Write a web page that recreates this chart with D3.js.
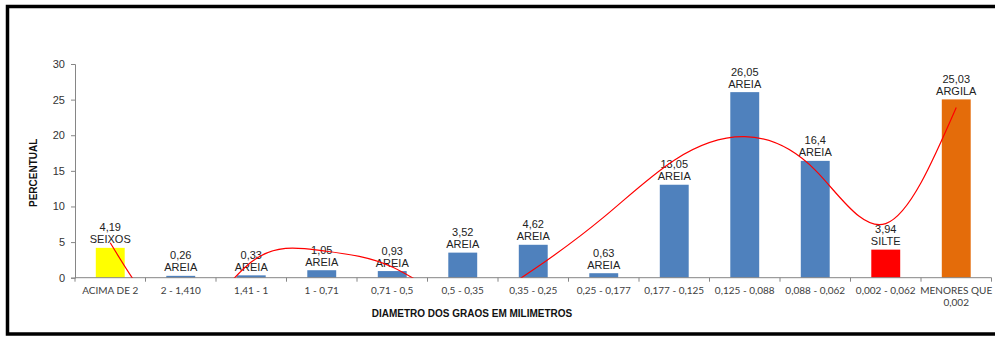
<!DOCTYPE html>
<html>
<head>
<meta charset="utf-8">
<script src="https://cdn.jsdelivr.net/npm/d3@7"></script>
<style>
  body { margin: 0; background: #fff; }
  svg { display: block; }
</style>
</head>
<body>
<div id="chart"></div>
<script>
// granulometria - percentual por faixa de diametro
var faixas = ["ACIMA DE 2", "2 - 1,410", "1,41 - 1", "1 - 0,71", "0,71 - 0,5", "0,5 - 0,35",
  "0,35 - 0,25", "0,25 - 0,177", "0,177 - 0,125", "0,125 - 0,088", "0,088 - 0,062",
  "0,002 - 0,062", "MENORES QUE 0,002"];
var percentual = [4.19, 0.26, 0.33, 1.05, 0.93, 3.52, 4.62, 0.63, 13.05, 26.05, 16.4, 3.94, 25.03];
var classe = ["SEIXOS", "AREIA", "AREIA", "AREIA", "AREIA", "AREIA", "AREIA", "AREIA", "AREIA",
  "AREIA", "AREIA", "SILTE", "ARGILA"];
// linha de tendencia (lida em cada faixa)
var tendencia = [4.9, -6, 2.2, 3.8, 1.5, -3, 1.1, 8.5, 16.5, 19.8, 15.1, 7.6, 23.9];
var yTicks = [0, 5, 10, 15, 20, 25, 30];

var cores = { "SEIXOS": "#FFFF00", "AREIA": "#4F81BD", "SILTE": "#FF0000", "ARGILA": "#E46C0A" };

var width = 995,
  height = 338;
var margin = { top: 64, left: 75 };
var plotW = 916.5, plotH = 213.7;

var svg = d3.select("#chart").append("svg")
  .attr("width", width)
  .attr("height", height);

// moldura
svg.append("rect")
  .attr("x", 7.5).attr("y", 6.5)
  .attr("width", 1000).attr("height", 327.5)
  .attr("fill", "#fff")
  .attr("stroke", "#000")
  .attr("stroke-width", 3.5);

var x = d3.scaleBand()
  .domain(faixas)
  .range([margin.left, margin.left + plotW])
  .paddingInner(0.59)
  .paddingOuter(0.295);

var xb = d3.scaleBand().domain(faixas).range([margin.left, margin.left + plotW]);

var y = d3.scaleLinear()
  .domain([0, 30])
  .range([margin.top + plotH, margin.top]);

var g = svg.append("g");

// eixo Y
var yAxis = g.append("g")
  .attr("transform", "translate(" + margin.left + ",0)")
  .call(d3.axisLeft(y).tickValues(yTicks).tickSize(4).tickPadding(6));
yAxis.select(".domain").attr("stroke", "#868686");
yAxis.selectAll(".tick line").attr("stroke", "#868686");
yAxis.selectAll("text")
  .attr("font-family", "Arial, 'Liberation Sans', sans-serif")
  .attr("font-size", 11)
  .attr("fill", "#333");

// barras
g.selectAll("rect.barra")
  .data(percentual)
  .enter().append("rect")
  .attr("class", "barra")
  .attr("x", function (d, i) { return x(faixas[i]); })
  .attr("width", x.bandwidth())
  .attr("y", function (d) { return y(d); })
  .attr("height", function (d) { return y(0) - y(d); })
  .attr("fill", function (d, i) { return cores[classe[i]]; });

// eixo X
var xAxisG = g.append("g")
  .attr("transform", "translate(0," + y(0) + ")");
xAxisG.append("line")
  .attr("x1", margin.left).attr("x2", margin.left + plotW)
  .attr("stroke", "#868686");
xAxisG.selectAll("line.sep")
  .data(faixas.concat([null]))
  .enter().append("line")
  .attr("class", "sep")
  .attr("x1", function (d, i) { return margin.left + i * xb.bandwidth(); })
  .attr("x2", function (d, i) { return margin.left + i * xb.bandwidth(); })
  .attr("y1", 0).attr("y2", 4)
  .attr("stroke", "#868686");

var rotulos = xAxisG.selectAll("text.faixa")
  .data(faixas)
  .enter().append("text")
  .attr("class", "faixa")
  .attr("text-anchor", "middle")
  .attr("font-family", "Lato, 'Open Sans', sans-serif")
  .attr("font-size", 10)
  .attr("fill", "#404040")
  .attr("y", 16);
rotulos.each(function (d) {
  var t = d3.select(this);
  var cx = xb(d) + xb.bandwidth() / 2;
  var partes = d === "MENORES QUE 0,002" ? ["MENORES QUE", "0,002"] : [d];
  partes.forEach(function (p, k) {
    t.append("tspan").attr("x", cx).attr("dy", k === 0 ? 0 : 12.5).text(p);
  });
});

// rotulos de dados
var rot = g.selectAll("text.valor")
  .data(percentual)
  .enter().append("text")
  .attr("class", "valor")
  .attr("text-anchor", "middle")
  .attr("font-family", "Arial, 'Liberation Sans', sans-serif")
  .attr("font-size", 11)
  .attr("fill", "#222");
rot.each(function (d, i) {
  var t = d3.select(this);
  var cx = x(faixas[i]) + x.bandwidth() / 2;
  t.append("tspan").attr("x", cx).attr("y", y(d) - 16.5).text(String(d).replace(".", ","));
  t.append("tspan").attr("x", cx).attr("y", y(d) - 4.5).text(classe[i]);
});

// linha de tendencia, recortada na area do grafico
svg.append("clipPath").attr("id", "area")
  .append("rect")
  .attr("x", margin.left).attr("y", margin.top)
  .attr("width", plotW).attr("height", plotH);

var linha = d3.line()
  .x(function (d, i) { return xb(faixas[i]) + xb.bandwidth() / 2; })
  .y(function (d) { return y(d); })
  .curve(d3.curveNatural);

g.append("path")
  .datum(tendencia)
  .attr("clip-path", "url(#area)")
  .attr("d", linha)
  .attr("fill", "none")
  .attr("stroke", "#FF0000")
  .attr("stroke-width", 1.2);

// titulos dos eixos
svg.append("text")
  .attr("transform", "translate(37," + (margin.top + plotH / 2 + 2) + ") rotate(-90)")
  .attr("text-anchor", "middle")
  .attr("font-family", "Arial, 'Liberation Sans', sans-serif")
  .attr("font-size", 10)
  .attr("font-weight", "bold")
  .attr("fill", "#111")
  .text("PERCENTUAL");

svg.append("text")
  .attr("x", 472).attr("y", 317)
  .attr("text-anchor", "middle")
  .attr("font-family", "Arial, 'Liberation Sans', sans-serif")
  .attr("font-size", 10)
  .attr("font-weight", "bold")
  .attr("fill", "#111")
  .text("DIAMETRO DOS GRAOS EM MILIMETROS");
</script>
</body>
</html>
